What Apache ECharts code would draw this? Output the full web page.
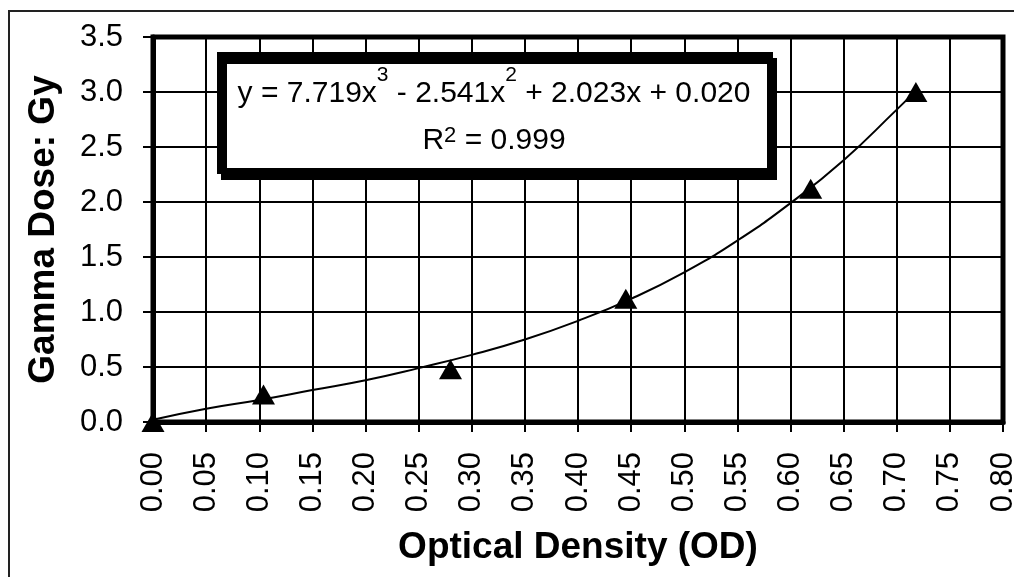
<!DOCTYPE html>
<html>
<head>
<meta charset="utf-8">
<script src="https://cdn.jsdelivr.net/npm/echarts@6/dist/echarts.min.js"></script>
<style>
  html, body { margin: 0; padding: 0; background: #fff; }
  #chart { width: 1014px; height: 577px; }
</style>
</head>
<body>
<div id="chart"></div>
<script>
// Measured data points (optical density vs gamma dose)
const odPoints   = [0.000, 0.104, 0.280, 0.445, 0.619, 0.718];
const dosePoints = [0.00, 0.25, 0.48, 1.12, 2.12, 3.00];

// Trend curve
const trendOD   = [0.00, 0.05, 0.10, 0.15, 0.20, 0.25, 0.30, 0.35, 0.40, 0.45, 0.50, 0.55, 0.60, 0.65, 0.70, 0.718];
const trendDose = [0.02, 0.12, 0.20, 0.29, 0.38, 0.49, 0.61, 0.75, 0.92, 1.12, 1.36, 1.65, 1.99, 2.38, 2.84, 3.01];

// Axis settings
const xMin = 0, xMax = 0.8, xStep = 0.05;
const yMin = 0, yMax = 3.5, yStep = 0.5;

// Texts
const xTitle = 'Optical Density (OD)';
const yTitle = 'Gamma Dose: Gy';
const eqParts = ['y = 7.719x', '3', ' - 2.541x', '2', ' + 2.023x + 0.020'];
const r2Parts = ['R', '2', ' = 0.999'];

const FONT = '"Liberation Sans", Arial, sans-serif';

const chart = echarts.init(document.getElementById('chart'), null, { renderer: 'canvas' });

const scatterData = odPoints.map((x, i) => [x, dosePoints[i]]);
const trendData = trendOD.map((x, i) => [x, trendDose[i]]);

const option = {
  backgroundColor: '#fff',
  animation: false,
  grid: {
    left: 153, right: 11, top: 37, bottom: 155,
    containLabel: false,
    outerBoundsMode: 'none',
    show: true,
    borderColor: '#000',
    borderWidth: 5,
    backgroundColor: '#fff'
  },
  xAxis: {
    type: 'value',
    min: xMin, max: xMax, interval: xStep,
    name: xTitle,
    nameLocation: 'middle',
    nameGap: 107,
    nameTextStyle: { fontFamily: FONT, fontSize: 37, fontWeight: 'bold', color: '#000' },
    axisLine: { show: true, onZero: false, lineStyle: { color: '#000', width: 5 } },
    axisTick: { show: true, inside: false, length: 10, lineStyle: { color: '#000', width: 2 } },
    axisLabel: {
      rotate: 90, margin: 30, fontFamily: FONT, fontSize: 31, color: '#000',
      formatter: v => v.toFixed(2)
    },
    splitLine: { show: true, lineStyle: { color: '#000', width: 2 } }
  },
  yAxis: {
    type: 'value',
    min: yMin, max: yMax, interval: yStep,
    name: yTitle,
    nameLocation: 'middle',
    nameGap: 91,
    nameTextStyle: { fontFamily: FONT, fontSize: 37, fontWeight: 'bold', color: '#000' },
    axisLine: { show: true, onZero: false, lineStyle: { color: '#000', width: 5 } },
    axisTick: { show: true, inside: false, length: 10, lineStyle: { color: '#000', width: 2 } },
    axisLabel: {
      margin: 30, fontFamily: FONT, fontSize: 31, color: '#000',
      formatter: v => v.toFixed(1)
    },
    splitLine: { show: true, lineStyle: { color: '#000', width: 2 } }
  },
  series: [
    {
      type: 'line',
      data: trendData,
      smooth: true,
      symbol: 'none',
      lineStyle: { color: '#000', width: 2 },
      z: 3
    },
    {
      type: 'scatter',
      data: scatterData,
      symbol: 'triangle',
      symbolSize: [23, 20],
      itemStyle: { color: '#000', opacity: 1 },
      z: 4
    }
  ],
  graphic: [
    {
      type: 'rect',
      z: 100,
      shape: { x: 9, y: 11, width: 1100, height: 700 },
      style: { fill: 'none', stroke: '#222', lineWidth: 2 },
      silent: true
    },
    {
      type: 'rect',
      z: 100,
      shape: { x: 220, y: 55, width: 550, height: 116 },
      style: {
        fill: '#fff', stroke: '#000', lineWidth: 6,
        shadowColor: '#000', shadowBlur: 0, shadowOffsetX: 4, shadowOffsetY: 6
      },
      silent: true
    },
    {
      type: 'text',
      z: 101,
      x: 494, y: 93.5,
      style: {
        text: '{n|' + eqParts[0] + '}{s|' + eqParts[1] + '}{n|' + eqParts[2] + '}{s|' + eqParts[3] + '}{n|' + eqParts[4] + '}',
        align: 'center', verticalAlign: 'middle',
        rich: {
          n: { fontFamily: FONT, fontSize: 30, lineHeight: 30, fill: '#000' },
          s: { fontFamily: FONT, fontSize: 21, lineHeight: 21, padding: [0, 0, 36, 0], fill: '#000' }
        }
      },
      silent: true
    },
    {
      type: 'text',
      z: 101,
      x: 494, y: 141,
      style: {
        text: '{n|' + r2Parts[0] + '}{s|' + r2Parts[1] + '}{n|' + r2Parts[2] + '}',
        align: 'center', verticalAlign: 'middle',
        rich: {
          n: { fontFamily: FONT, fontSize: 30, lineHeight: 30, fill: '#000' },
          s: { fontFamily: FONT, fontSize: 22, lineHeight: 22, padding: [0, 0, 10, 0], fill: '#000' }
        }
      },
      silent: true
    }
  ]
};

chart.setOption(option);
</script>
</body>
</html>
